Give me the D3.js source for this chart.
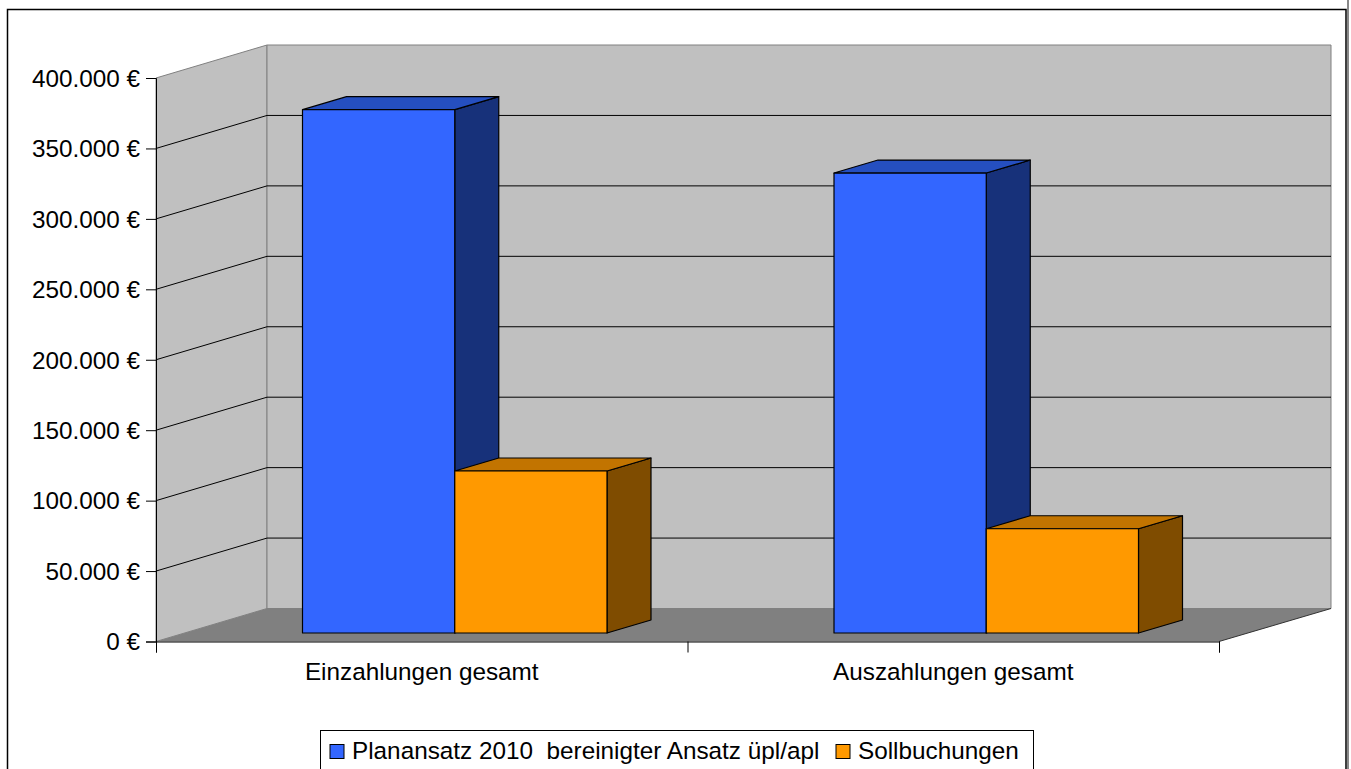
<!DOCTYPE html>
<html><head><meta charset="utf-8">
<script src="https://cdn.jsdelivr.net/npm/d3@7/dist/d3.min.js"></script>
<style>html,body{margin:0;padding:0;background:#fff;overflow:hidden}svg{display:block}text{font-family:"Liberation Sans",Arial,sans-serif;fill:#000}</style>
</head><body><svg id="c" width="1351" height="769"></svg>
<script>
const categories = ["Einzahlungen gesamt", "Auszahlungen gesamt"];
const seriesNames = ["Planansatz 2010  bereinigter Ansatz üpl/apl", "Sollbuchungen"];
const plan = [371500, 326500];
const soll = [115000, 74000];
const yTicks = [0, 50000, 100000, 150000, 200000, 250000, 300000, 350000, 400000];
const seriesColors = ["#3366ff", "#ff9900"];
const topColors = ["#254fc0", "#c27400"];
const sideColors = ["#17317a", "#7f4c00"];

const svg = d3.select("#c");
const left = 156, right = 1219, bottom = 641.5, topY = 78, wallDx = 111, wallDy = 33;
const barDx = 44, barDy = 13, barBase = 8.5, fontSize = "24.3px";
const y = d3.scaleLinear().domain([0, 400000]).range([bottom, topY]);
const x = d3.scaleBand().domain(categories).range([left, right]);
const inner = d3.scaleBand().domain(seriesNames).range([146.5, 451]);
const loc = d3.formatLocale({decimal: ",", thousands: ".", grouping: [3], currency: ["", " €"]});
const fmt = v => loc.format(",.0f")(v) + " €";
const pts = a => a.map(p => p.join(",")).join(" ");
const grey = "#808080";

svg.append("rect").attr("x", 7.5).attr("y", 9.5).attr("width", 1338.5).attr("height", 775)
  .attr("fill", "#fff").attr("stroke", "#000").attr("stroke-width", 1.5);
svg.append("rect").attr("x", 1347).attr("y", 0).attr("width", 2).attr("height", 769).attr("fill", "#888");

// walls and floor
svg.append("polygon").attr("points", pts([[left, topY], [left + wallDx, topY - wallDy], [left + wallDx, bottom - wallDy], [left, bottom]]))
  .attr("fill", "#c0c0c0").attr("stroke", grey);
svg.append("polygon").attr("points", pts([[left + wallDx, topY - wallDy], [right + wallDx + 1, topY - wallDy], [right + wallDx + 1, bottom - wallDy], [left + wallDx, bottom - wallDy]]))
  .attr("fill", "#c0c0c0").attr("stroke", grey);
svg.append("polygon").attr("points", pts([[left, bottom], [left + wallDx, bottom - wallDy], [right + wallDx + 1, bottom - wallDy], [right, bottom]]))
  .attr("fill", "#808080").attr("stroke", "none");
svg.append("line").attr("x1", right).attr("y1", bottom).attr("x2", right + wallDx + 1).attr("y2", bottom - wallDy).attr("stroke", "#333");

// gridlines
yTicks.filter(v => v > 0 && v < 400000).forEach(v => {
  svg.append("polyline").attr("fill", "none").attr("stroke", "#000").attr("stroke-width", 1)
    .attr("points", pts([[left, y(v)], [left + wallDx, y(v) - wallDy], [right + wallDx + 1, y(v) - wallDy]]));
});

// axes
const yAxis = svg.append("g").attr("transform", `translate(${left},0)`)
  .call(d3.axisLeft(y).tickValues(yTicks).tickFormat(fmt).tickSize(10).tickPadding(6));
yAxis.selectAll("text").style("font-size", fontSize).attr("dy", "0.34em");
const edgeScale = d3.scaleLinear().domain([0, categories.length]).range([left, right]);
svg.append("g").attr("transform", `translate(0,${bottom})`)
  .call(d3.axisBottom(edgeScale).tickValues(d3.range(categories.length + 1)).tickFormat("").tickSize(11));
const xAxis = svg.append("g").attr("transform", `translate(0,${bottom})`)
  .call(d3.axisBottom(x).tickSize(0).tickPadding(21));
xAxis.select(".domain").remove();
xAxis.selectAll("text").style("font-size", fontSize);
svg.selectAll(".domain").attr("stroke", "#000");

// bars: draw series so that later ones overlap earlier ones
const rows = [];
seriesNames.forEach((s, si) => categories.forEach((c, ci) => rows.push({c, s, si, v: (si ? soll : plan)[ci]})));
rows.forEach(d => {
  const x0 = x(d.c) + inner(d.s), x1 = x0 + inner.bandwidth();
  const yB = bottom - barBase, yT = y(d.v) - barBase;
  const g = svg.append("g").attr("stroke", "#000").attr("stroke-width", 1.2).attr("stroke-linejoin", "round");
  g.append("polygon").attr("fill", sideColors[d.si]).attr("points", pts([[x1, yT], [x1 + barDx, yT - barDy], [x1 + barDx, yB - barDy], [x1, yB]]));
  g.append("polygon").attr("fill", topColors[d.si]).attr("points", pts([[x0, yT], [x0 + barDx, yT - barDy], [x1 + barDx, yT - barDy], [x1, yT]]));
  g.append("rect").attr("fill", seriesColors[d.si]).attr("x", x0).attr("y", yT).attr("width", x1 - x0).attr("height", yB - yT);
});

// legend
const lg = svg.append("g");
lg.append("rect").attr("x", 320.5).attr("y", 730.5).attr("width", 713).attr("height", 60).attr("fill", "#fff").attr("stroke", "#000");
const legendX = [330, 836];
seriesNames.forEach((s, i) => {
  lg.append("rect").attr("x", legendX[i]).attr("y", 744.5).attr("width", 14).attr("height", 14).attr("fill", seriesColors[i]).attr("stroke", "#000");
  lg.append("text").attr("x", legendX[i] + 22).attr("y", 758.5).style("font-size", fontSize).style("white-space", "pre").attr("xml:space", "preserve").text(s);
});
</script></body></html>
